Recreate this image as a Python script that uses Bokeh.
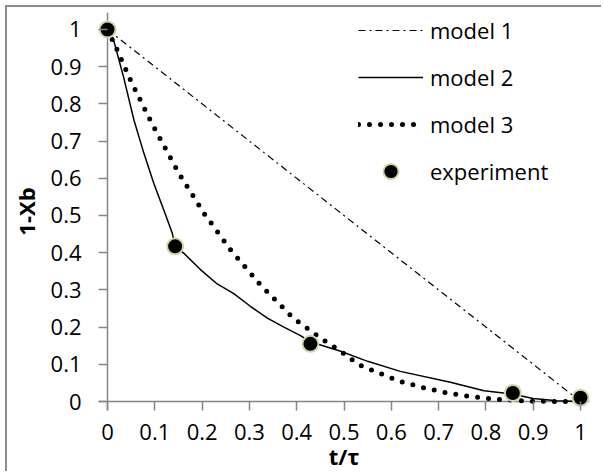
import math
from bokeh.plotting import figure
from bokeh.models import Range1d, Legend, LegendItem, FixedTicker, Span
from bokeh.embed import file_html
from bokeh.resources import INLINE

# ---- data ----
x_ticks = [0, 0.1, 0.2, 0.3, 0.4, 0.5, 0.6, 0.7, 0.8, 0.9, 1]
x_tick_labels = ["0", "0.1", "0.2", "0.3", "0.4", "0.5", "0.6", "0.7", "0.8", "0.9", "1"]
y_ticks = [0, 0.1, 0.2, 0.3, 0.4, 0.5, 0.6, 0.7, 0.8, 0.9, 1]
y_tick_labels = ["0", "0.1", "0.2", "0.3", "0.4", "0.5", "0.6", "0.7", "0.8", "0.9", "1"]

model1_x = [0, 1]
model1_y = [1, 0]

model2_x = [0, 0.013, 0.034, 0.056, 0.077, 0.098, 0.119, 0.137, 0.143, 0.161, 0.197,
            0.232, 0.267, 0.302, 0.338, 0.373, 0.408, 0.43, 0.493, 0.55, 0.619, 0.725,
            0.796, 0.856, 0.90, 0.95, 1.0]
model2_y = [1, 0.971, 0.872, 0.756, 0.667, 0.586, 0.515, 0.452, 0.417, 0.399, 0.354,
            0.316, 0.290, 0.256, 0.224, 0.200, 0.177, 0.160, 0.135, 0.108, 0.081, 0.052,
            0.029, 0.020, 0.008, 0.002, 0.0]

model3_x = [0, 0.02, 0.05, 0.094, 0.151, 0.204, 0.26, 0.323, 0.393, 0.45, 0.493, 0.531,
            0.577, 0.619, 0.669, 0.718, 0.764, 0.813, 0.887, 0.95, 1.0]
model3_y = [1, 0.946, 0.86, 0.747, 0.613, 0.506, 0.408, 0.314, 0.224, 0.171, 0.135, 0.099,
            0.075, 0.054, 0.037, 0.023, 0.014, 0.007, 0.001, 0.0, 0.0]

exp_x = [0, 0.143, 0.429, 0.857, 1.0]
exp_y = [1.0, 0.417, 0.155, 0.023, 0.01]

series_names = ["model 1", "model 2", "model 3", "experiment"]
x_title = "t/τ"
y_title = "1-Xb"

FONT = "Open Sans"
AXIS_COLOR = "#868686"

p = figure(width=596, height=466, output_backend="svg", toolbar_location=None,
           x_range=Range1d(-9 / 473, 1 + 9 / 473), y_range=Range1d(-9 / 373, 1 + 17 / 373),
           min_border_left=91, min_border_right=14, min_border_top=5, min_border_bottom=62,
           background_fill_color="white", border_fill_color="white",
           outline_line_color=None)
p.styles = {"margin-left": "7px", "margin-top": "7px",
            "box-shadow": "-2px -2px 0 0 #8c8c8c"}
p.grid.visible = False

# axis baselines through the origin
p.add_layout(Span(location=0, dimension="width", line_color=AXIS_COLOR,
                  line_width=1.5, level="underlay"))
p.add_layout(Span(location=0, dimension="height", line_color=AXIS_COLOR,
                  line_width=1.5, level="underlay"))

r1 = p.line(model1_x, model1_y, line_color="black", line_width=1.2, line_dash="7 4 2 4")
r2 = p.line(model2_x, model2_y, line_color="black", line_width=1.5)
r3 = p.line(model3_x, model3_y, line_color="black", line_width=5, line_dash="0 11",
            line_cap="round")
r4 = p.scatter(exp_x, exp_y, size=16, fill_color="black", line_color="#c9d9a8",
               line_width=2)

for ax, ticks, labels, standoff, title, tstand in (
        (p.xaxis[0], x_ticks, x_tick_labels, 13, x_title, -2),
        (p.yaxis[0], y_ticks, y_tick_labels, 17, y_title, 7)):
    ax.ticker = FixedTicker(ticks=ticks)
    ax.major_label_overrides = {t: l for t, l in zip(ticks, labels)}
    ax.axis_line_color = None
    ax.major_tick_out = 0
    ax.major_tick_in = 9
    ax.minor_tick_out = 0
    ax.minor_tick_in = 0
    ax.major_tick_line_color = AXIS_COLOR
    ax.major_tick_line_width = 1.5
    ax.major_label_text_font = FONT
    ax.major_label_text_font_size = "22px"
    ax.major_label_text_color = "black"
    ax.major_label_standoff = standoff
    ax.axis_label = title
    ax.axis_label_text_font = FONT
    ax.axis_label_text_font_style = "bold"
    ax.axis_label_text_font_size = "22px"
    ax.axis_label_text_color = "black"
    ax.axis_label_standoff = tstand

legend = Legend(items=[LegendItem(label=n, renderers=[r]) for n, r in
                       zip(series_names, [r1, r2, r3, r4])],
                location=(260, 220), padding=0, margin=0, spacing=9,
                label_height=38, glyph_height=38, glyph_width=65, label_standoff=7,
                border_line_color=None, background_fill_alpha=0,
                label_text_font=FONT, label_text_font_size="22px",
                label_text_color="black")
p.add_layout(legend)

open("out.html", "w").write(file_html(p, INLINE))
